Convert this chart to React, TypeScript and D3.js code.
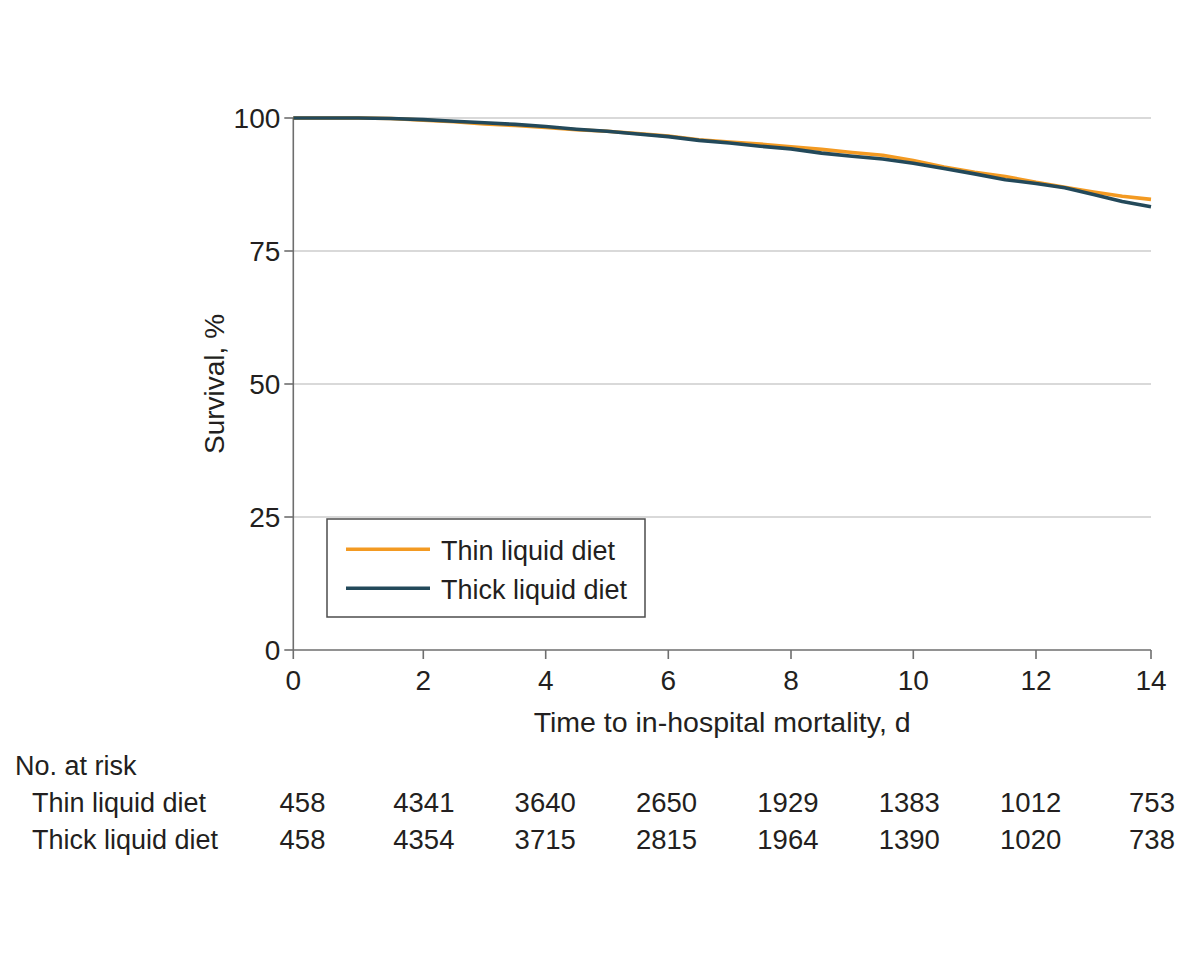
import React from "react";
import * as d3 from "d3";

// ---- data ----
const days = [0, 1, 1.5, 2, 2.5, 3, 3.5, 4, 4.5, 5, 5.5, 6, 6.5, 7, 7.5, 8, 8.5, 9, 9.5, 10, 10.5, 11, 11.5, 12, 12.5, 13, 13.5, 14];
const thinSurvival = [100, 100, 99.9, 99.6, 99.3, 98.9, 98.6, 98.2, 97.8, 97.5, 97.1, 96.6, 95.9, 95.5, 95.1, 94.6, 94.1, 93.5, 93.0, 92.0, 90.8, 89.8, 89.0, 87.9, 87.0, 86.1, 85.3, 84.7];
const thickSurvival = [100, 100, 99.9, 99.7, 99.4, 99.1, 98.8, 98.4, 97.9, 97.5, 97.0, 96.5, 95.8, 95.3, 94.7, 94.2, 93.4, 92.8, 92.3, 91.5, 90.5, 89.5, 88.4, 87.7, 86.9, 85.6, 84.3, 83.3];

const seriesNames = ["Thin liquid diet", "Thick liquid diet"];
const seriesColors = ["#F39A22", "#23495A"];

const xTicks = [0, 2, 4, 6, 8, 10, 12, 14];
const yTicks = [0, 25, 50, 75, 100];

const atRiskDays = [0, 2, 4, 6, 8, 10, 12, 14];
const thinAtRisk = [458, 4341, 3640, 2650, 1929, 1383, 1012, 753];
const thickAtRisk = [458, 4354, 3715, 2815, 1964, 1390, 1020, 738];

const FONT = "'Liberation Sans', Arial, sans-serif";
const TEXT = "#231F20";

export default function App() {
  const x = d3.scaleLinear().domain(xTicks).range([293.3, 423.3, 545.7, 668.3, 791, 913.3, 1036, 1151]);
  const y = d3.scaleLinear().domain([0, 100]).range([650, 118]);
  const xRisk = d3.scaleLinear().domain([0, 14]).range([302.5, 1152]);

  const line = d3
    .line<[number, number]>()
    .x((d) => x(d[0]))
    .y((d) => y(d[1]))
    .curve(d3.curveLinear);

  const series = [thinSurvival, thickSurvival].map((vals) => days.map((d, i) => [d, vals[i]] as [number, number]));

  const left = x(0);
  const right = x(14);
  const bottom = y(0);

  return (
    <svg width={1200} height={961} style={{ position: "absolute", left: 0, top: 0, background: "#fff" }} fontFamily={FONT}>
      {/* gridlines */}
      {yTicks.filter((t) => t > 0).map((t) => (
        <line key={"g" + t} x1={left} x2={right} y1={y(t)} y2={y(t)} stroke="#D9D9D9" strokeWidth={2} />
      ))}
      {/* y axis */}
      <line x1={left} x2={left} y1={y(100)} y2={bottom} stroke="#6E6E6E" strokeWidth={1.6} />
      {yTicks.map((t) => (
        <g key={"y" + t}>
          <line x1={left - 9} x2={left} y1={y(t)} y2={y(t)} stroke="#6E6E6E" strokeWidth={1.6} />
          <text x={left - 13} y={y(t)} dy="0.36em" textAnchor="end" fontSize={28} fill={TEXT}>
            {t}
          </text>
        </g>
      ))}
      {/* x axis */}
      <line x1={left} x2={right} y1={bottom} y2={bottom} stroke="#6E6E6E" strokeWidth={1.6} />
      {xTicks.map((t) => (
        <g key={"x" + t}>
          <line x1={x(t)} x2={x(t)} y1={bottom} y2={bottom + 9} stroke="#6E6E6E" strokeWidth={1.6} />
          <text x={x(t)} y={690} textAnchor="middle" fontSize={28} fill={TEXT}>
            {t}
          </text>
        </g>
      ))}
      <text x={(left + right) / 2} y={732} textAnchor="middle" fontSize={28.5} fill={TEXT}>
        Time to in-hospital mortality, d
      </text>
      <text transform={`translate(224, ${y(50)}) rotate(-90)`} textAnchor="middle" fontSize={28} fill={TEXT}>
        Survival, %
      </text>

      {/* curves */}
      {series.map((s, i) => (
        <path key={"s" + i} d={line(s) || ""} fill="none" stroke={seriesColors[i]} strokeWidth={3.6} strokeLinejoin="round" />
      ))}

      {/* legend */}
      <rect x={327} y={519} width={318} height={98} fill="#fff" stroke="#4D4D4D" strokeWidth={1.5} />
      {seriesNames.map((n, i) => (
        <g key={"l" + i}>
          <line x1={346} x2={430} y1={549.3 + i * 39} y2={549.3 + i * 39} stroke={seriesColors[i]} strokeWidth={3.5} />
          <text x={441} y={560 + i * 38.5} fontSize={27} fill={TEXT}>
            {n}
          </text>
        </g>
      ))}

      {/* number at risk */}
      <text x={15} y={775} fontSize={27} fill={TEXT}>
        No. at risk
      </text>
      {[thinAtRisk, thickAtRisk].map((row, r) => (
        <g key={"r" + r}>
          <text x={32} y={812 + r * 37} fontSize={27} fill={TEXT}>
            {seriesNames[r]}
          </text>
          {row.map((v, i) => (
            <text key={i} x={xRisk(atRiskDays[i])} y={812 + r * 37} textAnchor="middle" fontSize={27.5} fill={TEXT}>
              {v}
            </text>
          ))}
        </g>
      ))}
    </svg>
  );
}
